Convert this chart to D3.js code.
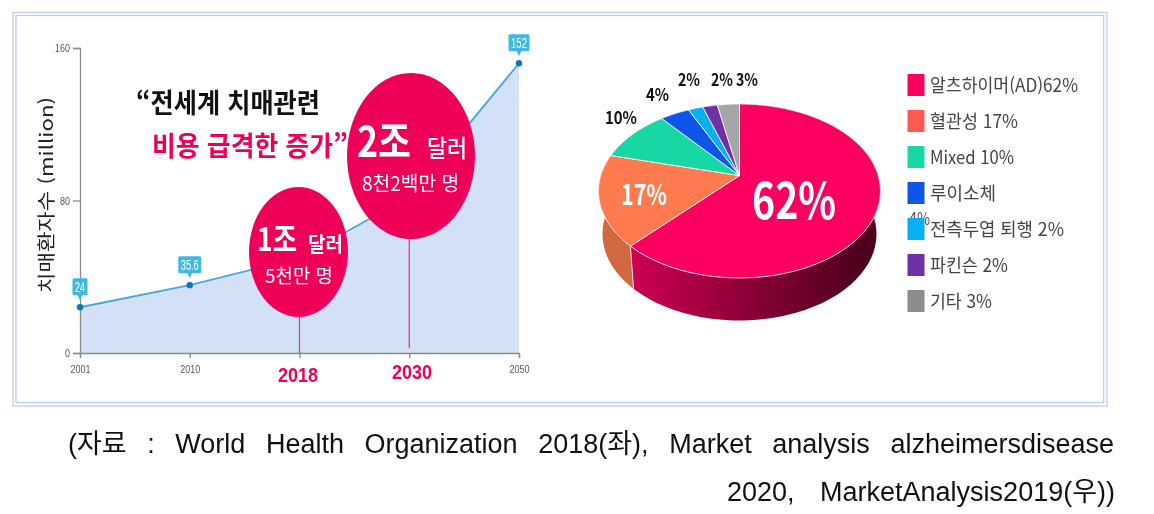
<!DOCTYPE html>
<html lang="ko">
<head>
<meta charset="utf-8">
<script src="https://cdn.jsdelivr.net/npm/d3@7/dist/d3.min.js"></script>
<style>
html,body{margin:0;padding:0;background:#fff}
svg{display:block;font-family:"Noto Sans CJK KR","Noto Sans",sans-serif}
.soft{filter:blur(0.55px)}
.softer{filter:blur(0.3px)}
</style>
</head>
<body>
<div id="chart"></div>
<script>
// --- data ---
const years = ["2001", "2010", "2018", "2030", "2050"];
const patients = [24, 35.6, 50, 82, 152];
const yTicks = [0, 80, 160];
const tagLabels = ["24", "35.6", null, null, "152"];
const highlightYears = ["2018", "2030"];
const pieLabels = ["62%", "17%", "10%", "4%", "2%", "2%", "3%"];
const pieValues = [62, 17, 10, 4, 2, 2, 3];
const pieColors = ["#fb0060", "#ff7a4e", "#17d7a4", "#0f55ea", "#07b0f2", "#7030a6", "#a6a6a6"];
const legendColors = ["#fb0060", "#ff5a52", "#17d7a4", "#0f55ea", "#07b0f2", "#7030a6", "#8c8c8c"];
const legendLabels = ["알츠하이머(AD)62%", "혈관성 17%", "Mixed 10%", "루이소체", "전측두엽 퇴행 2%", "파킨슨 2%", "기타 3%"];

const W = 1154, H = 514;
const svg = d3.select("#chart").append("svg").attr("width", W).attr("height", H);
const defs = svg.append("defs");
const pink = "#ef0058";
const frameColor = "#bccdf0";

// --- frame ---
const frame = svg.append("g").attr("fill", "none").attr("stroke", frameColor).attr("stroke-width", 1.3);
frame.append("rect").attr("x", 13).attr("y", 12.5).attr("width", 1094).attr("height", 393.5);
frame.append("rect").attr("x", 16).attr("y", 15.5).attr("width", 1087.7).attr("height", 387);

// --- left: area chart ---
const x = d3.scalePoint().domain(years).range([80, 519]);
const y = d3.scaleLinear().domain([0, 160]).range([353, 48]);
const left = svg.append("g").attr("class", "soft");
const rows = years.map((yr, i) => ({yr, v: patients[i], tag: tagLabels[i]}));

left.append("path").datum(rows).attr("fill", "#d2e1f5")
  .attr("d", d3.area().x(d => x(d.yr)).y0(y(0)).y1(d => y(d.v)));
left.append("path").datum(rows).attr("fill", "none").attr("stroke", "#4ba6da").attr("stroke-width", 1.8)
  .attr("d", d3.line().x(d => x(d.yr)).y(d => y(d.v)));

const ax = left.append("g").attr("transform", `translate(0,${y(0)})`)
  .call(d3.axisBottom(x).tickSize(5).tickPadding(7));
const ay = left.append("g").attr("transform", `translate(${x("2001")},0)`)
  .call(d3.axisLeft(y).tickValues(yTicks).tickSize(7).tickPadding(3));
[ax, ay].forEach(a => {
  a.selectAll("path,line").attr("stroke", "#8a8a8a").attr("stroke-width", 1.3);
  a.selectAll("text").attr("font-family", '"Liberation Sans",sans-serif').attr("font-size", 11).attr("fill", "#555");
});
ax.selectAll(".tick").filter(d => highlightYears.includes(d)).select("text").remove();
ax.selectAll(".tick text").attr("textLength", 20).attr("lengthAdjust", "spacingAndGlyphs");
ay.selectAll(".tick text").attr("textLength", d => d === 160 ? 15 : d === 80 ? 10 : 5).attr("lengthAdjust", "spacingAndGlyphs");

left.selectAll("circle.pt").data(rows.filter(d => d.tag)).join("circle")
  .attr("class", "pt").attr("cx", d => x(d.yr)).attr("cy", d => y(d.v)).attr("r", 3.2).attr("fill", "#0a78bd");

// value tags
const tagW = t => t.length === 2 ? 15 : t.length === 3 ? 21 : 23;
const tag = left.selectAll("g.tag").data(rows.filter(d => d.tag)).join("g")
  .attr("class", "tag").attr("transform", d => `translate(${x(d.yr)},${y(d.v)})`);
tag.append("rect").attr("x", d => -tagW(d.tag) / 2).attr("y", -29).attr("width", d => tagW(d.tag))
  .attr("height", 17).attr("rx", 1.5).attr("fill", "#3fb9e2");
tag.append("path").attr("d", "M-2.5,-12.5L0,-7L2.5,-12.5Z").attr("fill", "#3fb9e2");
tag.append("text").attr("y", -15.5).attr("text-anchor", "middle").attr("font-family", '"Liberation Sans",sans-serif')
  .attr("font-size", 14).attr("fill", "#fff").attr("textLength", d => tagW(d.tag) - 5).attr("lengthAdjust", "spacingAndGlyphs")
  .text(d => d.tag);

// stems
const stems = [{yr: "2018", from: 317, to: 353}, {yr: "2030", from: 239, to: 348}];
left.selectAll("line.stem").data(stems).join("line").attr("class", "stem")
  .attr("x1", d => x(d.yr)).attr("x2", d => x(d.yr)).attr("y1", d => d.from).attr("y2", d => d.to)
  .attr("stroke", "#e0386e").attr("stroke-width", 1.2);
// bubbles
left.append("ellipse").attr("cx", 298.5).attr("cy", 252).attr("rx", 49.5).attr("ry", 65).attr("fill", pink);
left.append("ellipse").attr("cx", 411).attr("cy", 156).attr("rx", 64).attr("ry", 83).attr("fill", pink);

function label(g, s, px, py, size, fill, weight, width, anchor) {
  const t = g.append("text").attr("x", px).attr("y", py).attr("font-size", size).attr("fill", fill)
    .attr("font-weight", weight || 400).text(s);
  if (anchor) t.attr("text-anchor", anchor);
  if (width) t.attr("textLength", width).attr("lengthAdjust", "spacingAndGlyphs");
  return t;
}
label(left, "“전세계 치매관련", 136, 113, 27, "#111", 700, 184);
label(left, "비용 급격한 증가”", 152, 156, 27, pink, 700, 196);
label(left, "2조", 357, 157, 42, "#fff", 700, 54);
label(left, "달러", 427, 157, 24, "#fff", 500, 40);
label(left, "8천2백만 명", 362, 191, 20, "#fff", 400, 97);
label(left, "1조", 257, 251, 32, "#fff", 700, 40);
label(left, "달러", 308, 252, 20, "#fff", 700, 35);
label(left, "5천만 명", 265, 283, 19, "#fff", 400, 68);
label(left, "2018", 278, 382, 21, pink, 700, 40).attr("font-family", '"Liberation Sans",sans-serif');
label(left, "2030", 392, 379, 21, pink, 700, 40).attr("font-family", '"Liberation Sans",sans-serif');
label(left, "치매환자수 (million)", 0, 0, 18, "#222", 400, 196)
  .attr("transform", "translate(52.5,293) rotate(-90)");

// --- right: 3D pie ---
const topRim = {cx: 739.5, cy: 191, rx: 141, ry: 87};
const botRim = {cx: 739.5, cy: 234, rx: 137, ry: 86.5};
const tilt = 0.177;
function project(theta, g) {
  const s = Math.sin(theta), c = Math.cos(theta), d = 1 + tilt * c;
  return [g.cx + g.rx * s * Math.sqrt(1 - tilt * tilt) / d, g.cy - g.ry * (c + tilt) / d];
}
const apex = [topRim.cx, topRim.cy - topRim.ry * tilt];
const sample = (a, b) => d3.range(0, 61).map(i => a + (b - a) * i / 60);
const arcs = d3.pie().sort(null).value(d => d)(pieValues);
const poly = d3.line().curve(d3.curveLinearClosed);
const pie = svg.append("g").attr("class", "soft");

const redGrad = defs.append("linearGradient").attr("id", "redSide").attr("gradientUnits", "userSpaceOnUse")
  .attr("x1", 631).attr("x2", 860).attr("y1", 0).attr("y2", 0);
redGrad.append("stop").attr("offset", 0).attr("stop-color", "#cc0052");
redGrad.append("stop").attr("offset", 1).attr("stop-color", "#4e001d");

const sideFill = ["url(#redSide)", "#d1683f"];
pie.selectAll("path.side").data(arcs.slice(0, 2)).join("path").attr("class", "side")
  .attr("fill", (d, i) => sideFill[i])
  .attr("d", d => {
    const th = sample(d.startAngle, d.endAngle);
    return poly(th.map(t => project(t, topRim)).concat(th.slice().reverse().map(t => project(t, botRim))));
  });
const [bx0, by0] = project(arcs[0].endAngle, topRim), [bx1, by1] = project(arcs[0].endAngle, botRim);
pie.append("line").attr("x1", bx0).attr("y1", by0).attr("x2", bx1).attr("y2", by1).attr("stroke", "#f3d9d9").attr("stroke-width", 1);

pie.selectAll("path.slice").data(arcs).join("path").attr("class", "slice")
  .attr("fill", (d, i) => pieColors[i]).attr("stroke", "#fff").attr("stroke-width", 0.8)
  .attr("d", d => poly([apex].concat(sample(d.startAngle, d.endAngle).map(t => project(t, topRim)))));

// pie labels
label(pie, pieLabels[0], 752, 219, 50, "#fff", 700, 84);
label(pie, pieLabels[1], 621, 205, 28, "#fff", 600, 46);
label(pie, pieLabels[2], 605, 124, 17, "#111", 700, 32);
label(pie, pieLabels[3], 646, 101, 17, "#111", 700, 23);
label(pie, pieLabels[4], 678, 86, 17, "#111", 700, 22);
label(pie, pieLabels[5], 711, 86, 17, "#111", 700, 22);
label(pie, pieLabels[6], 736, 86, 17, "#111", 700, 22);

// legend
const legend = svg.append("g").attr("class", "soft");
label(legend, "4%", 909, 225, 17, "#555", 400, 21);
const legendY = d3.scalePoint().domain(legendLabels).range([74, 290]);
const legendWidths = [148, 88, 84, 66, 134, 78, 62];
legend.selectAll("rect").data(legendLabels).join("rect")
  .attr("x", 907.5).attr("y", d => legendY(d)).attr("width", 17).attr("height", 22)
  .attr("fill", (d, i) => legendColors[i]);
legend.selectAll("text.lg").data(legendLabels).join("text").attr("class", "lg")
  .attr("x", 930).attr("y", d => legendY(d) + 17.5).attr("font-size", 18).attr("fill", "#444")
  .attr("textLength", (d, i) => legendWidths[i]).attr("lengthAdjust", "spacingAndGlyphs").text(d => d);

// caption: justified through word spacing
const cap = svg.append("g").attr("class", "softer").attr("font-family", '"Liberation Sans","Noto Sans CJK KR",sans-serif')
  .attr("font-size", 27).attr("fill", "#111");
function justified(s, px, py, width) {
  const t = cap.append("text").attr("x", px).attr("y", py).text(s);
  const gaps = s.split(" ").length - 1;
  t.attr("word-spacing", (width - t.node().getComputedTextLength()) / gaps);
}
justified("(자료 : World Health Organization 2018(좌), Market analysis alzheimersdisease", 68, 453, 1046);
justified("2020, MarketAnalysis2019(우))", 727, 501, 388);
</script>
</body>
</html>
